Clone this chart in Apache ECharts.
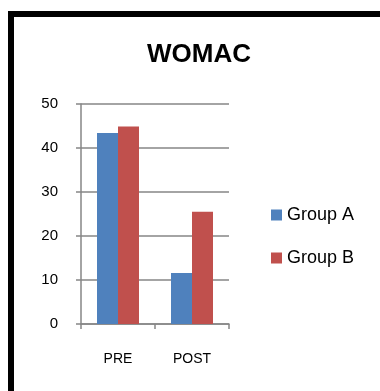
<!DOCTYPE html>
<html>
<head>
<meta charset="utf-8">
<script src="https://cdn.jsdelivr.net/npm/echarts@6/dist/echarts.min.js"></script>
<style>
html,body{margin:0;padding:0;background:#fff;}
#chart{width:380px;height:391px;}
</style>
</head>
<body>
<div id="chart"></div>
<script>
const categories = ['PRE', 'POST'];
const groupA = [43.4, 11.6];
const groupB = [44.9, 25.5];
const seriesNames = ['Group A', 'Group B'];
const titleText = 'WOMAC';

const FONT = '"Liberation Sans", Arial, sans-serif';
const chart = echarts.init(document.getElementById('chart'), null, {renderer: 'canvas'});
chart.setOption({
  animation: false,
  backgroundColor: '#fff',
  title: {
    text: titleText,
    left: 147, top: 42,
    padding: 0,
    textStyle: {fontFamily: FONT, fontSize: 26, fontWeight: 'bold', color: '#000'}
  },
  legend: {
    orient: 'vertical',
    left: 266, top: 201,
    itemWidth: 11, itemHeight: 11, itemGap: 25,
    icon: 'rect',
    textStyle: {fontFamily: FONT, fontSize: 18, color: '#000', padding: [0,0,0,0]},
    data: seriesNames
  },
  graphic: [
    {type: 'rect', shape: {x: 8, y: 11, width: 372, height: 6}, style: {fill: '#000'}},
    {type: 'rect', shape: {x: 8, y: 11, width: 6, height: 380}, style: {fill: '#000'}}
  ],
  grid: {left: 81, right: 151, top: 104, bottom: 67, containLabel: false},
  xAxis: {
    type: 'category',
    data: categories,
    axisLine: {show: true, lineStyle: {color: '#868686', width: 1.5}},
    axisTick: {show: true, alignWithLabel: false, length: 5, lineStyle: {color: '#868686', width: 1.5}},
    axisLabel: {margin: 28, fontFamily: FONT, fontSize: 14, color: '#000'},
    splitLine: {show: false}
  },
  yAxis: {
    type: 'value',
    min: 0, max: 50, interval: 10,
    axisLine: {show: true, lineStyle: {color: '#868686', width: 1.5}},
    axisTick: {show: true, length: 5, lineStyle: {color: '#868686', width: 1.5}},
    axisLabel: {margin: 23, fontFamily: FONT, fontSize: 15, color: '#000'},
    splitLine: {show: true, lineStyle: {color: '#868686', width: 1.5}}
  },
  series: [
    {name: seriesNames[0], type: 'bar', data: groupA, barWidth: 21, barGap: '0%', itemStyle: {color: '#4F81BD'}},
    {name: seriesNames[1], type: 'bar', data: groupB, barWidth: 21, barGap: '0%', itemStyle: {color: '#C0504D'}}
  ]
});
</script>
</body>
</html>
